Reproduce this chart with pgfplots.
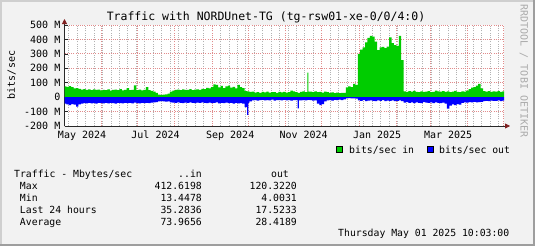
\documentclass[border=0pt]{standalone}
\usepackage{pgfplots}
\pgfplotsset{compat=1.18}
\usepackage{pgfplotstable}
\usepackage{fontspec}
\setmainfont{DejaVu Sans Mono}
\usetikzlibrary{arrows.meta}
\definecolor{rrdback}{RGB}{242,242,242}
\definecolor{shadea}{RGB}{207,207,207}
\definecolor{shadeb}{RGB}{158,158,158}
\definecolor{gridc}{RGB}{178,178,178}
\definecolor{mgridc}{RGB}{225,140,140}
\definecolor{arrowc}{RGB}{128,31,31}
\definecolor{axisc}{RGB}{40,40,40}
\definecolor{inc}{RGB}{0,204,0}
\definecolor{outc}{RGB}{0,0,255}
\definecolor{wmark}{RGB}{170,170,170}

\pgfplotstableread{
d in out
0 75 45
2 72 50
4 76 55
6 70 48
8 60 52
10 62 65
12 57 50
14 52 45
16 55 42
18 50 44
20 53 40
22 48 43
24 54 41
26 50 45
28 52 40
30 47 42
32 51 44
34 49 40
36 53 43
38 46 39
40 50 42
42 52 45
44 48 40
46 55 41
48 47 44
50 50 39
52 62 42
54 48 40
56 51 43
58 82 38
60 49 41
62 52 44
64 47 40
66 50 42
68 70 39
70 48 41
72 44 38
74 38 36
76 30 34
78 18 30
80 16 28
82 17 29
84 20 31
86 25 30
88 38 36
90 45 38
92 50 40
94 52 37
96 48 39
98 53 41
100 51 38
102 50 40
104 55 36
106 49 39
108 52 42
110 54 38
112 50 40
114 58 37
116 55 39
118 65 41
120 60 38
122 70 42
124 88 40
126 85 37
128 68 44
130 78 39
132 62 41
134 75 38
136 80 42
138 66 40
140 72 45
142 60 39
144 85 43
146 70 41
148 62 45
150 42 70
152 40 123
153 40 40
154 36 30
156 38 22
158 32 20
160 35 24
162 30 21
164 36 19
166 33 23
168 38 20
170 31 22
172 34 18
174 35 24
176 30 21
178 37 20
180 33 23
182 36 19
184 31 22
186 34 20
188 46 24
190 40 21
192 35 20
194 30 77
195 30 22
196 37 22
198 40 20
200 35 23
202 170 19
203 38 19
204 38 21
206 35 24
208 40 22
210 34 45
212 36 55
214 32 48
216 38 30
218 35 22
220 30 20
222 33 24
224 28 19
226 31 21
228 27 18
230 29 20
232 30 15
234 68 8
236 75 7
238 70 9
240 92 8
242 85 10
244 300 22
246 330 25
248 345 20
250 380 27
252 410 24
254 425 22
256 420 26
258 385 28
260 326 23
262 345 25
264 348 21
266 340 27
268 350 24
270 415 26
272 375 22
274 360 28
276 355 25
278 425 23
280 256 27
282 40 38
284 36 35
286 42 40
288 38 37
290 44 42
292 37 36
294 35 39
296 40 41
298 36 35
300 38 38
302 42 40
304 35 37
306 37 42
308 45 36
310 40 39
312 38 41
314 42 38
316 36 45
318 40 80
320 35 58
322 38 50
324 43 55
326 36 48
328 34 52
330 40 40
332 38 36
334 45 38
336 55 35
338 66 37
340 70 33
342 80 36
344 92 34
346 60 32
348 42 28
350 38 25
352 42 27
354 36 24
356 40 26
358 38 25
360 42 23
362 37 27
364 40 24
365.4 40 24
}\traffic

\newcommand\fs[1]{\fontsize{#1}{#1}\selectfont}

\begin{document}
\begin{tikzpicture}[x=1bp,y=1bp]
\useasboundingbox (0,0) rectangle (535,246);
\fill[rrdback] (0,0) rectangle (535,246);
\draw[shadea, line width=2bp] (1,0) -- (1,245) -- (535,245);
\draw[shadeb, line width=2bp] (0,1) -- (534,1) -- (534,246);
\coordinate (plotSW) at (64.5,120);

\begin{axis}[
  at={(plotSW)}, anchor=south west, scale only axis,
  width=439.5bp, height=101bp,
  xmin=0.4, xmax=365.4, ymin=-200, ymax=500,
  axis background/.style={fill=white},
  axis x line*=bottom, axis y line*=left,
  x axis line style={draw=axisc, line width=0.8bp, shorten >=-6bp, -{Triangle[length=5bp,width=5bp,color=arrowc]}},
  y axis line style={draw=axisc, line width=0.8bp, shorten >=-6bp, -{Triangle[length=5bp,width=5bp,color=arrowc]}},
  xtick={15,76,138,199,260,319},
  xticklabels={May 2024,Jul 2024,Sep 2024,Nov 2024,Jan 2025,Mar 2025},
  xtick style={draw=none},
  xticklabel style={font=\fs{10bp}, anchor=base, inner sep=0pt, yshift=-12.5bp},
  extra x ticks={31,61,92,123,153,184,214,245,276,304,335,365},
  extra x tick labels={},
  extra x tick style={grid=major, major grid style={mgridc, line width=0.9bp, dash pattern=on 1bp off 1.2bp}},
  minor xtick={4,11,...,361},
  xminorgrids,
  minor grid style={gridc, line width=0.9bp, dash pattern=on 1bp off 1.2bp},
  ytick={-200,-100,0,100,200,300,400,500},
  yticklabels={-200 M,-100 M,0,100 M,200 M,300 M,400 M,500 M},
  ytick style={draw=axisc, line width=0.6bp},
  major tick length=3bp,
  ymajorgrids,
  major grid style={mgridc, line width=0.9bp, dash pattern=on 1bp off 1.2bp},
  yticklabel style={font=\fs{10bp}, anchor=east, inner sep=0pt, xshift=-4bp},
]
\addplot[const plot, fill=inc, draw=none] table[x=d, y=in] {\traffic} \closedcycle;
\addplot[const plot, fill=outc, draw=none] table[x=d, y expr=-\thisrow{out}] {\traffic} \closedcycle;
\end{axis}

\node[anchor=base, inner sep=0pt, font=\fs{11.5bp}] at (266,225.3) {Traffic with NORDUnet-TG (tg-rsw01-xe-0/0/4:0)};
\node[rotate=90, anchor=base, inner sep=0pt, font=\fs{10bp}] at (14.8,171) {bits/sec};
\node[rotate=-90, anchor=base, inner sep=0pt, font=\fs{10bp}, text=wmark] at (520.5,175) {RRDTOOL / TOBI OETIKER};

\filldraw[fill=inc, draw=black, line width=0.6bp] (336.5,93.5) rectangle (342.5,99.5);
\node[anchor=base west, inner sep=0pt, font=\fs{9.8bp}] at (349,93) {bits/sec in};
\filldraw[fill=outc, draw=black, line width=0.6bp] (427.5,93.5) rectangle (433.5,99.5);
\node[anchor=base west, inner sep=0pt, font=\fs{9.8bp}] at (439,93) {bits/sec out};

\begin{scope}[every node/.style={inner sep=0pt, font=\fs{9.8bp}}]
\node[anchor=base west] at (14,69) {Traffic - Mbytes/sec};
\node[anchor=base east] at (202,69) {..in};
\node[anchor=base east] at (289,69) {out};
\node[anchor=base west] at (19.8,57) {Max};
\node[anchor=base east] at (202,57) {412.6198};
\node[anchor=base east] at (297,57) {120.3220};
\node[anchor=base west] at (19.8,45) {Min};
\node[anchor=base east] at (202,45) {13.4478};
\node[anchor=base east] at (297,45) {4.0031};
\node[anchor=base west] at (19.8,33) {Last 24 hours};
\node[anchor=base east] at (202,33) {35.2836};
\node[anchor=base east] at (297,33) {17.5233};
\node[anchor=base west] at (19.8,21) {Average};
\node[anchor=base east] at (202,21) {73.9656};
\node[anchor=base east] at (297,21) {28.4189};
\node[anchor=base east] at (509.5,9.3) {Thursday May 01 2025 10:03:00};
\end{scope}
\end{tikzpicture}
\end{document}
